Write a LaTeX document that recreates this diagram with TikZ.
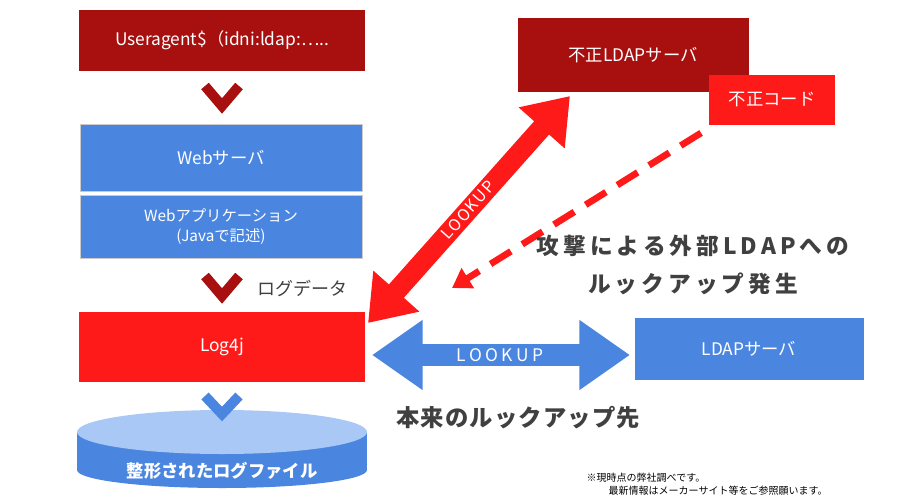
\documentclass[tikz,border=0pt]{standalone}
\usepackage{fontspec}
\setmainfont{Noto Sans CJK JP}
\usetikzlibrary{arrows.meta}
\definecolor{dred}{HTML}{A81010}
\definecolor{bred}{HTML}{FF1A1A}
\definecolor{blu}{HTML}{4A86E0}
\definecolor{lblu}{HTML}{A9C8F5}
\definecolor{txt}{HTML}{404040}
\tikzset{
 box/.style={draw=#1,fill=#1,text=white,font=\fontsize{13}{15}\selectfont,inner sep=0},
 chev/.style={line width=7.5pt,line cap=butt,line join=miter},
 lbl/.style={text=txt,font=\bfseries\fontsize{17}{20}\selectfont\addfontfeature{LetterSpace=18}},
}
\begin{document}
\begin{tikzpicture}[x=0.75pt,y=-0.75pt]
\useasboundingbox (0,0) rectangle (900,500);
\node[box=dred,minimum width=213.75pt,minimum height=45pt] (ua) at (222,40) {Useragent\$（idni:ldap:…..};
\draw[dred,chev] (205,86) -- (222,106) -- (239,86);
\node[box=blu,draw=gray!40,minimum width=211.5pt,minimum height=50pt] (web) at (221,158) {Webサーバ};
\node[box=blu,draw=gray!40,minimum width=211.5pt,minimum height=47pt,align=center,font=\fontsize{11.5}{15}\selectfont] (app) at (221,227) {Webアプリケーション\\(Javaで記述)};
\draw[dred,chev] (205,276) -- (222,296) -- (239,276);
\node[text=txt,font=\fontsize{13.5}{15}\selectfont] (ld) at (302,288) {ログデータ};
\node[box=bred,minimum width=213.75pt,minimum height=52pt] (log) at (222,347) {Log4j};
\fill[blu] (77,432) rectangle (367,470);
\fill[blu] (222,470) ellipse [x radius=145,y radius=18];
\fill[lblu] (222,432) ellipse [x radius=145,y radius=22];
\draw[blu,chev] (205,396) -- (222,414) -- (239,396);
\node[text=white,font=\bfseries\fontsize{13}{15}\selectfont] (lf) at (222,471) {整形されたログファイル};
\node[box=dred,minimum width=172.5pt,minimum height=55pt] (evil) at (633,55) {不正LDAPサーバ};
\node[box=bred,minimum width=94pt,minimum height=37pt] (code) at (772,100) {不正コード};
\node[box=blu,minimum width=171pt,minimum height=46pt] (ldap) at (749,349) {LDAPサーバ};
\coordinate (r1) at (368,323); \coordinate (r2) at (570,96);
\draw[bred,line width=15pt,{Triangle[length=32pt,width=44pt]}-{Triangle[length=32pt,width=44pt]}] (r1) -- (r2);
\node[text=white,font=\fontsize{12}{14}\selectfont\addfontfeature{LetterSpace=10},rotate=48.3] at (468,210) {LOOKUP};
\draw[bred,line width=5pt,dash pattern=on 18pt off 10pt,-{Triangle[length=14pt,width=17pt]}] (code.south west) ++(-8,8) -- (452,288);
\coordinate (b1) at (372,355); \coordinate (b2) at (630,355);
\draw[blu,line width=17pt,{Triangle[length=38pt,width=50pt]}-{Triangle[length=38pt,width=50pt]}] (b1) -- (b2);
\node[text=white,font=\fontsize{13}{14}\selectfont\addfontfeature{LetterSpace=20}] at (500,355) {LOOKUP};
\node[lbl] (t1) at (693,246) {攻撃による外部LDAPへの};
\node[lbl] (t2) at (693,284) {ルックアップ発生};
\node[text=txt,font=\bfseries\fontsize{17.5}{20}\selectfont\addfontfeature{LetterSpace=5}] (t3) at (518,418) {本来のルックアップ先};
\node[text=black,font=\fontsize{7.5}{10}\selectfont,align=left,anchor=north west] (n) at (582,468) {※現時点の弊社調べです。\\\hspace{2.2em}最新情報はメーカーサイト等をご参照願います。};
\end{tikzpicture}
\end{document}
